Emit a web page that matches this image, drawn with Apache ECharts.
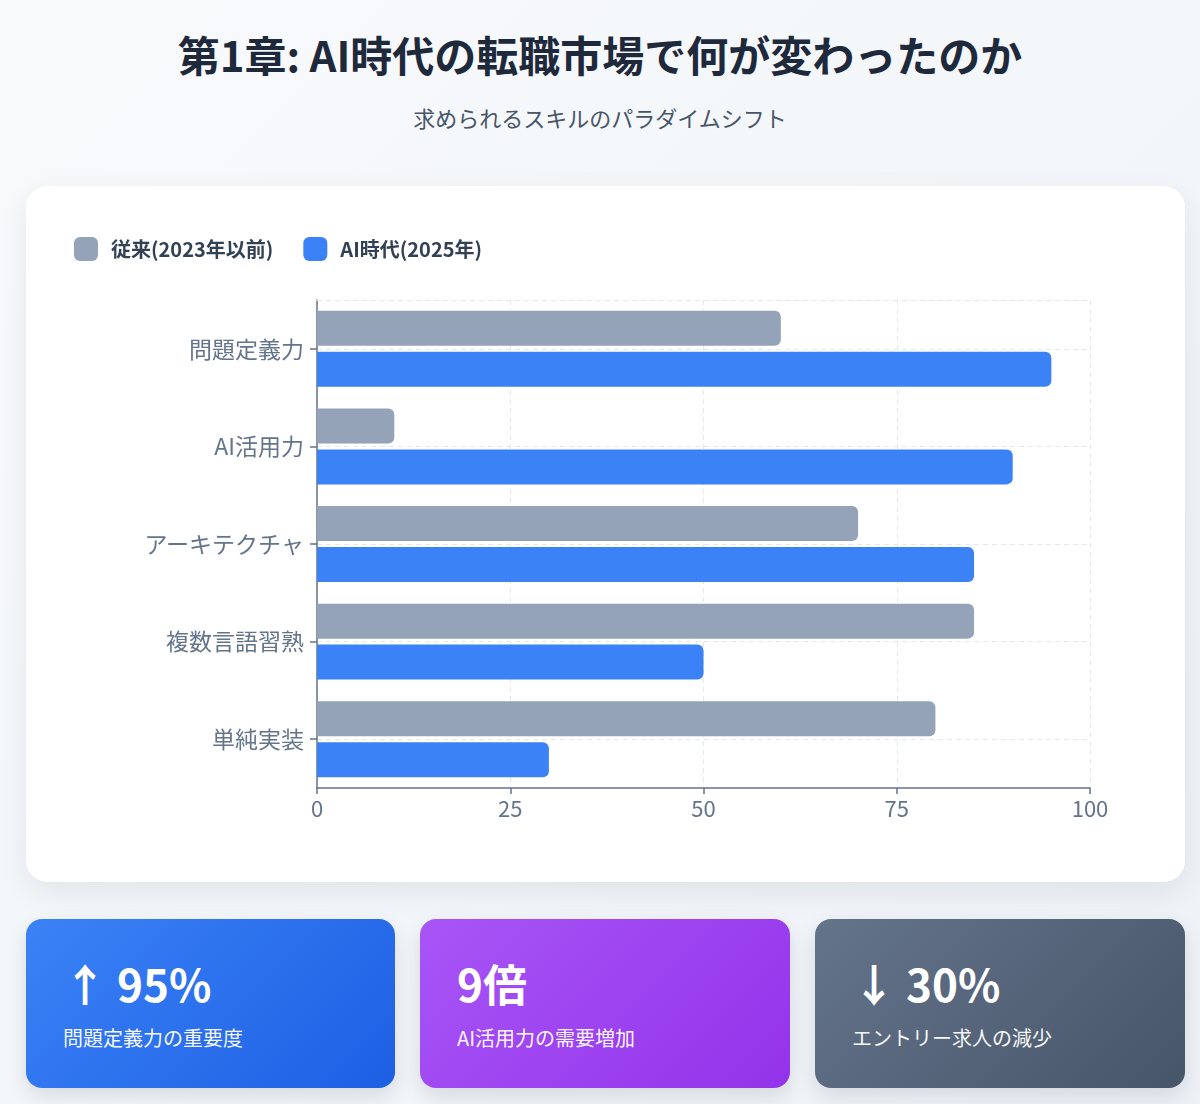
<!DOCTYPE html>
<html lang="ja">
<head>
<meta charset="utf-8">
<script src="https://cdn.jsdelivr.net/npm/echarts@6/dist/echarts.min.js"></script>
<style>
  html, body { margin:0; padding:0; }
  body {
    width:1200px; height:1104px; overflow:hidden; position:relative;
    background: linear-gradient(135deg, #f8fafc 0%, #eef2f7 100%);
    font-family: "Noto Sans CJK JP", "Noto Sans", sans-serif;
  }
  h1 {
    position:absolute; left:0; top:23px; width:1200px; margin:0;
    text-align:center; font-size:42px; font-weight:700; color:#1e293b; line-height:62px;
  }
  .sub {
    position:absolute; left:0; top:100px; width:1200px; margin:0;
    text-align:center; font-size:22px; font-weight:400; color:#475569; line-height:34px;
  }
  #card {
    position:absolute; left:26px; top:186px; width:1159px; height:696px;
    background:#fff; border-radius:22px; overflow:hidden;
    box-shadow: 0 10px 30px rgba(15,23,42,0.08);
  }
  #chart { width:1159px; height:696px; }
  .stat {
    position:absolute; top:919px; width:369px; height:169px; border-radius:16px;
    color:#fff; box-shadow: 0 8px 20px rgba(15,23,42,0.12);
  }
  .stat .big {
    position:absolute; left:37px; top:32px; font-size:44px; font-weight:700; line-height:64px; white-space:pre;
  }
  .stat .lab {
    position:absolute; left:37px; top:104px; font-size:20px; font-weight:400; line-height:30px; opacity:0.95;
  }
  .s1 { left:26px; background: linear-gradient(135deg, #3b82f6 0%, #1d5fe4 100%); }
  .s2 { left:420px; width:370px; background: linear-gradient(135deg, #a855f7 0%, #9333ea 100%); }
  .s3 { left:815px; width:370px; background: linear-gradient(135deg, #64748b 0%, #475569 100%); }
</style>
</head>
<body>
<h1>第1章: AI時代の転職市場で何が変わったのか</h1>
<div class="sub">求められるスキルのパラダイムシフト</div>
<div id="card"><div id="chart"></div></div>
<div class="stat s1"><div class="big">↑ 95%</div><div class="lab">問題定義力の重要度</div></div>
<div class="stat s2"><div class="big">9倍</div><div class="lab">AI活用力の需要増加</div></div>
<div class="stat s3"><div class="big">↓ 30%</div><div class="lab">エントリー求人の減少</div></div>
<script>
const categories = ['問題定義力', 'AI活用力', 'アーキテクチャ', '複数言語習熟', '単純実装'];
const seriesNames = ['従来(2023年以前)', 'AI時代(2025年)'];
const legacyValues = [60, 10, 70, 85, 80];
const aiEraValues = [95, 90, 85, 50, 30];
const xTicks = [0, 25, 50, 75, 100];

const FONT = '"Noto Sans CJK JP", "Noto Sans", sans-serif';
const chart = echarts.init(document.getElementById('chart'), null, { renderer: 'canvas' });
chart.setOption({
  backgroundColor: '#ffffff',
  animation: false,
  textStyle: { fontFamily: FONT },
  legend: {
    left: 43, top: 46,
    itemWidth: 24, itemHeight: 24, itemGap: 30,
    icon: 'roundRect',
    data: seriesNames,
    textStyle: { fontSize: 20, fontWeight: 600, color: '#334155', fontFamily: FONT, padding: [0, 0, 0, 8] }
  },
  grid: { left: 291, right: 95, top: 114, bottom: 94, containLabel: false },
  xAxis: [{
    type: 'value', min: xTicks[0], max: xTicks[xTicks.length - 1], interval: 25,
    axisLine: { show: true, lineStyle: { color: '#64748b', width: 1.5 } },
    axisTick: { show: true, length: 6, lineStyle: { color: '#64748b', width: 1.5 } },
    axisLabel: { fontSize: 22, color: '#64748b', margin: 10, fontFamily: FONT },
    splitLine: { show: true, lineStyle: { color: '#e2e8f0', type: [5, 4], width: 1 } }
  }, {
    type: 'value', position: 'top', min: 0, max: 100,
    axisLine: { show: true, lineStyle: { color: '#e2e8f0', type: [5, 4], width: 1 } },
    axisTick: { show: false }, axisLabel: { show: false }, splitLine: { show: false }
  }],
  yAxis: {
    type: 'category', data: categories, inverse: true,
    axisLine: { show: true, lineStyle: { color: '#64748b', width: 1.5 } },
    axisTick: { show: true, alignWithLabel: true, length: 7, lineStyle: { color: '#64748b', width: 1.5 } },
    axisLabel: { fontSize: 23, color: '#64748b', margin: 13, fontFamily: FONT },
    splitLine: { show: true, alignWithLabel: true, lineStyle: { color: '#e2e8f0', type: [5, 4], width: 1 } }
  },
  series: [{
    name: seriesNames[0], type: 'bar', data: legacyValues, xAxisIndex: 0,
    barWidth: 35, barGap: '17%',
    itemStyle: { color: '#94a3b8', borderRadius: [0, 6, 6, 0] }
  }, {
    name: seriesNames[1], type: 'bar', data: aiEraValues, xAxisIndex: 0,
    barWidth: 35, barGap: '17%',
    itemStyle: { color: '#3b82f6', borderRadius: [0, 6, 6, 0] }
  }]
});
</script>
</body>
</html>
